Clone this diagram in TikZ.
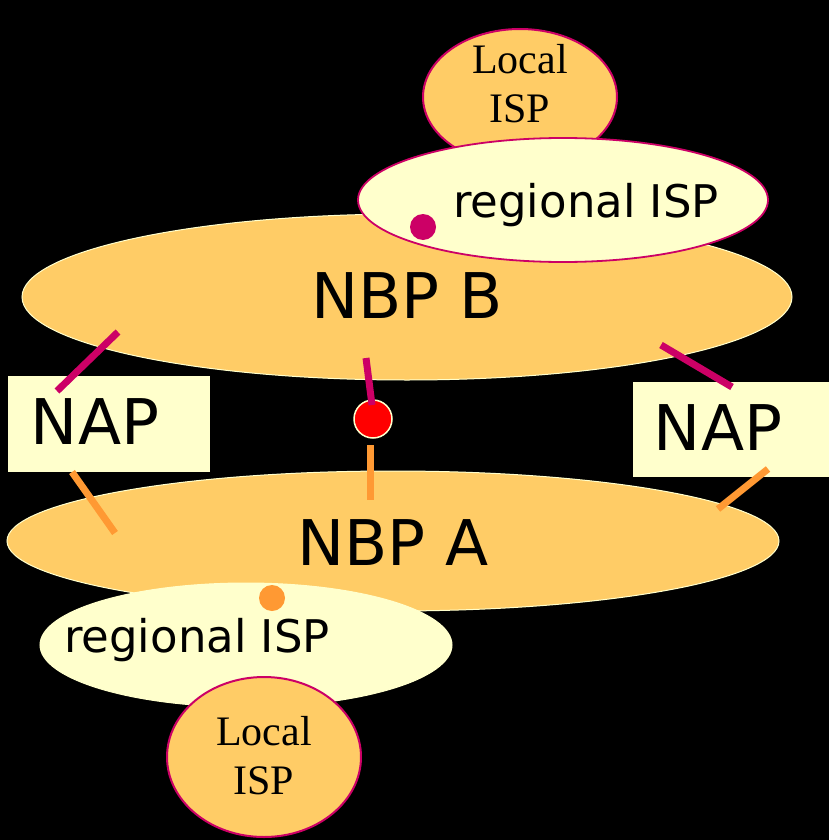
\documentclass[tikz,border=0pt]{standalone}
\usepackage{fontspec}
\setmainfont{Liberation Serif}
\newfontfamily\handfont{DejaVu Sans}
\usetikzlibrary{shapes.geometric}

\definecolor{nbpfill}{HTML}{FFCC66}
\definecolor{cream}{HTML}{FFFFCC}
\definecolor{plum}{HTML}{CC0066}
\definecolor{tangerine}{HTML}{FF9933}

\tikzset{
  nbp/.style={ellipse, draw=cream, line width=1pt, fill=nbpfill, inner sep=0pt},
  regional/.style={ellipse, fill=cream, line width=1.8pt, inner sep=0pt},
  localisp/.style={ellipse, draw=plum, line width=2pt, fill=nbpfill, inner sep=0pt,
    minimum width=194pt},
  napbox/.style={rectangle, fill=cream, inner sep=0pt, anchor=north west},
  bigtext/.style={font=\handfont\fontsize{63}{66}\selectfont},
  midtext/.style={font=\handfont\fontsize{45}{48}\selectfont, anchor=base},
  serif/.style={font=\fontsize{42}{49}\selectfont, align=center},
  plumlink/.style={draw=plum, line width=7pt},
  orangelink/.style={draw=tangerine, line width=7pt},
}

\begin{document}
\begin{tikzpicture}[x=1pt,y=-1pt]
\fill[black] (0,0) rectangle (829,840);
\useasboundingbox (0,0) rectangle (829,840);
% backbone B with its regional and local ISP
	\node[nbp, minimum width=770pt, minimum height=166pt] (nbpB) at (407,297) {};
	\node[localisp, minimum height=136pt] (localT) at (520,97) {};
	\node[regional, draw=plum, minimum width=410pt, minimum height=124pt] (regT) at (563,200) {};
	\node[bigtext] (nbpBtext) at (407,296) {NBP B};
	\node[serif] (localTtext) at (520,84) {Local\\ISP};
	\node[midtext] (regTtext) at (586,217) {regional ISP};
	\fill[color=plum] (423,227) circle (13pt);
% backbone A with its regional and local ISP
	\node[nbp, minimum width=772pt, minimum height=140pt] (nbpA) at (393,541) {};
	\node[bigtext] (nbpAtext) at (393,543) {NBP A};
	\node[regional, draw=cream, line width=1pt, minimum width=412pt, minimum height=124pt] (regB) at (246,645) {};
	\node[midtext] (regBtext) at (197,652) {regional ISP};
	\fill[color=tangerine] (272,598) circle (13pt);
	\node[localisp, minimum height=160pt] (localB) at (264,757) {};
	\node[serif] (localBtext) at (264,756) {Local\\ISP};
% the two NAPs and the private peering point
	\node[napbox, minimum width=202pt, minimum height=96pt] (napL) at (8,376) {};
	\node[bigtext] (napLtext) at (95,422) {NAP};
	\node[napbox, minimum width=200pt, minimum height=95pt] (napR) at (633,382) {};
	\node[bigtext] (napRtext) at (718,428) {NAP};
	\node[circle, fill=red, draw=cream, line width=1.5pt, minimum size=38pt, inner sep=0pt] (hub) at (373,419) {};
% links
	\coordinate (bL) at (118,332);
	\coordinate (nL) at (57,391);
	\coordinate (bC) at (366,358);
	\coordinate (hC) at (372,405);
	\coordinate (bR) at (661,345);
	\coordinate (nR) at (732,387);
	\coordinate (nL2) at (72,472);
	\coordinate (aL) at (115,533);
	\coordinate (hC2) at (370,445);
	\coordinate (aC) at (370,500);
	\coordinate (nR2) at (768,469);
	\coordinate (aR) at (718,509);
	\draw[plumlink] (bL) -- (nL);
	\draw[plumlink] (bC) -- (hC);
	\draw[plumlink] (bR) -- (nR);
	\draw[orangelink] (nL2) -- (aL);
	\draw[orangelink] (hC2) -- (aC);
	\draw[orangelink] (nR2) -- (aR);
\end{tikzpicture}
\end{document}
